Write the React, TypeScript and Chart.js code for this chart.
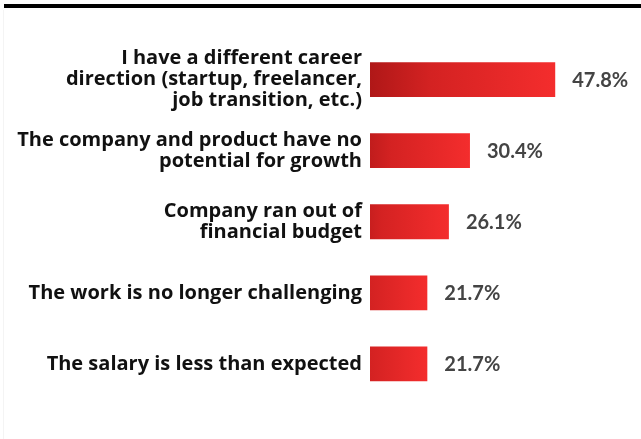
import React, { useEffect, useRef } from "react";
import { Chart, registerables } from "chart.js";

Chart.register(...registerables);

const categories: string[][] = [
  ["I have a different career", "direction (startup, freelancer,", "job transition, etc.)"],
  ["The company and product have no", "potential for growth"],
  ["Company ran out of", "financial budget"],
  ["The work is no longer challenging"],
  ["The salary is less than expected"],
];
const values: number[] = [47.8, 30.4, 26.1, 21.7, 21.7];

const valueLabelPlugin = {
  id: "valueLabels",
  afterDatasetsDraw(chart: any) {
    const ctx = chart.ctx;
    const meta = chart.getDatasetMeta(0);
    ctx.save();
    ctx.font = "bold 20px Lato";
    ctx.fillStyle = "#444444";
    ctx.textAlign = "left";
    ctx.textBaseline = "middle";
    meta.data.forEach((bar: any, i: number) => {
      const v = chart.data.datasets[0].data[i] as number;
      ctx.fillText(v.toFixed(1) + "%", bar.x + 17, bar.y + 1);
    });
    ctx.restore();
  },
};

export default function App() {
  const ref = useRef<HTMLCanvasElement | null>(null);
  useEffect(() => {
    if (!ref.current) return;
    const chart = new Chart(ref.current, {
      type: "bar",
      data: {
        labels: categories,
        datasets: [
          {
            data: values,
            borderWidth: 0,
            barPercentage: 0.49,
            categoryPercentage: 1,
            backgroundColor: (c: any) => {
              const ch = c.chart;
              if (!ch.chartArea || c.type !== "data") return "#e02626";
              const xs = ch.scales.x;
              const x0 = xs.getPixelForValue(0);
              const x1 = xs.getPixelForValue(c.raw as number);
              const g = ch.ctx.createLinearGradient(x0, 0, x1, 0);
              g.addColorStop(0.2, "#ae1717");
              g.addColorStop(0.47, "#d42222");
              g.addColorStop(1, "#f42d2d");
              return g;
            },
          },
        ],
      },
      options: {
        indexAxis: "y",
        responsive: false,
        animation: false,
        devicePixelRatio: 1,
        layout: { padding: { top: 44, bottom: 18, left: 0, right: 26 } },
        plugins: { legend: { display: false }, tooltip: { enabled: false } },
        scales: {
          x: { display: false, min: 10, max: 60 },
          y: {
            grid: { display: false, drawTicks: false },
            border: { display: false },
            afterFit: (s: any) => {
              s.width = 370;
            },
            ticks: {
              padding: 8,
              color: "#111111",
              font: { family: "'Open Sans'", size: 20, weight: 700, lineHeight: 1.05 },
            },
          },
        },
      },
      plugins: [valueLabelPlugin],
    } as any);
    return () => chart.destroy();
  }, []);
  return (
    <div style={{ position: "absolute", left: 0, top: 0, width: 641, height: 439, background: "#fff", overflow: "hidden" }}>
      <div style={{ position: "absolute", left: 4, right: 0, top: 4, height: 4, background: "#000" }} />
      <div style={{ position: "absolute", left: 3, top: 10, bottom: 0, width: 1, background: "#f4f4f4" }} />
      <canvas ref={ref} width={641} height={439} style={{ position: "absolute", left: 0, top: 0 }} />
    </div>
  );
}
